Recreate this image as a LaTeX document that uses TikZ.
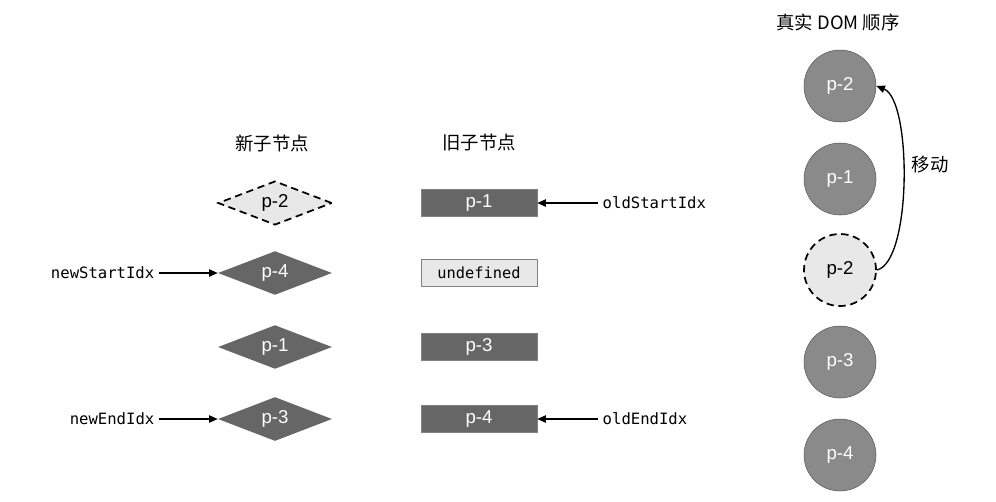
\documentclass[tikz,border=0pt]{standalone}
\usepackage{fontspec}
\setmainfont{Liberation Sans}
\setmonofont{DejaVu Sans Mono}
\newfontfamily\cjk{Noto Sans CJK SC}
\usetikzlibrary{shapes.geometric,arrows.meta}
\definecolor{darkfill}{HTML}{666666}
\definecolor{circfill}{HTML}{8A8A8A}
\definecolor{lightfill}{HTML}{E8E8E8}
\begin{document}
\begin{tikzpicture}[x=0.75pt,y=-0.75pt,
  newnode/.style={diamond,fill=darkfill,text=white,inner sep=0pt,minimum width=85.5pt,minimum height=25.5pt,font=\fontsize{14}{14}\selectfont},
  oldnode/.style={rectangle,fill=darkfill,draw=gray,text=white,inner sep=0pt,minimum width=87pt,minimum height=20.25pt,font=\fontsize{14}{14}\selectfont},
  domnode/.style={circle,fill=circfill,draw=black!65,text=white,inner sep=0pt,minimum size=54pt,font=\fontsize{14}{14}\selectfont},
  ghost/.style={fill=lightfill,draw=black,text=black,dash pattern=on 5.5pt off 3.5pt,line width=1.3pt},
  idx/.style={font=\ttfamily\fontsize{11.7}{12}\selectfont},
  title/.style={font=\cjk\fontsize{13.8}{14}\selectfont},
  ptr/.style={-{Triangle[length=6.5pt,width=5.5pt]},line width=1pt}]
  \useasboundingbox (0,0) rectangle (996,501);
  % titles
  \node[title] (tnew) at (272,143) {新子节点};
  \node[title] (told) at (479,143) {旧子节点};
  \node[title] (tdom) at (838,22) {真实 DOM 顺序};
  % new children
  \node[newnode,ghost] (n1) at (275,203) {p-2};
  \node[newnode] (n2) at (275,273) {p-4};
  \node[newnode] (n3) at (275,347) {p-1};
  \node[newnode] (n4) at (275,419) {p-3};
  % old children
  \node[oldnode] (o1) at (479,203) {p-1};
  \node[oldnode,fill=lightfill,text=black,font=\ttfamily\fontsize{11.5}{12}\selectfont] (o2) at (479,273) {undefined};
  \node[oldnode] (o3) at (479,347) {p-3};
  \node[oldnode] (o4) at (479,419) {p-4};
  % real DOM
  \node[domnode] (d1) at (840,86) {p-2};
  \node[domnode] (d2) at (840,179) {p-1};
  \node[domnode,ghost] (d3) at (840,270) {p-2};
  \node[domnode] (d4) at (840,362) {p-3};
  \node[domnode] (d5) at (840,455) {p-4};
  % pointers
  \node[idx,anchor=east] (nsi) at (159,273) {newStartIdx};
  \node[idx,anchor=east] (nei) at (159,419) {newEndIdx};
  \node[idx,anchor=west] (osi) at (598,203) {oldStartIdx};
  \node[idx,anchor=west] (oei) at (598,419) {oldEndIdx};
  \draw[ptr] (nsi) -- (n2);
  \draw[ptr] (nei) -- (n4);
  \draw[ptr] (osi) -- (o1);
  \draw[ptr] (oei) -- (o4);
  % move
  \draw[ptr] (d3.east) .. controls (912,262) and (912,100) .. (d1.east) node[pos=0.56,right=3pt,title] (mv) {移动};
\end{tikzpicture}
\end{document}
